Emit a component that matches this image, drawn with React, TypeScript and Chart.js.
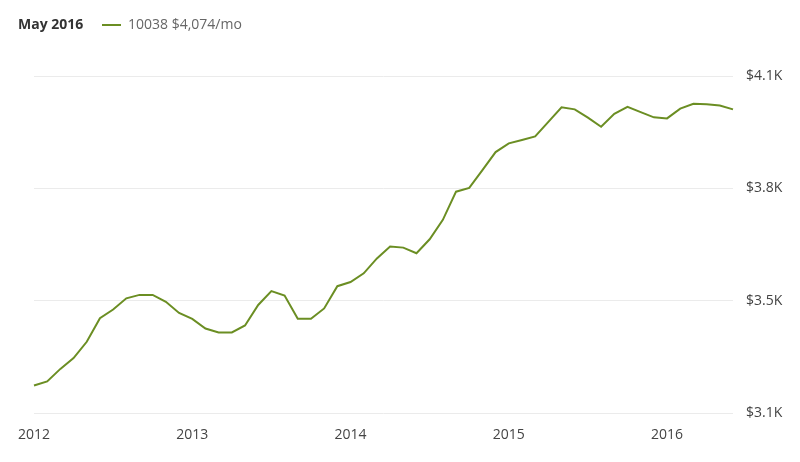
import { useEffect, useRef } from "react";
import { Chart, registerables } from "chart.js";

Chart.register(...registerables);

const years = ["2012", "2013", "2014", "2015", "2016"];
const monthNums = ["01", "02", "03", "04", "05", "06", "07", "08", "09", "10", "11", "12"];
const months: string[] = [];
years.forEach((y) => monthNums.forEach((m) => months.push(`${y}-${m}`)));
const categories = months.slice(0, 54); // Jan 2012 – Jun 2016

const rent = [
  3209, 3221, 3257, 3288, 3335, 3403, 3428, 3460, 3470, 3470, 3450, 3418,
  3401, 3373, 3362, 3362, 3382, 3441, 3481, 3468, 3401, 3401, 3431, 3495,
  3507, 3532, 3575, 3609, 3606, 3590, 3630, 3686, 3767, 3778, 3829, 3881,
  3906, 3916, 3926, 3968, 4010, 4004, 3980, 3954, 3991, 4011, 3996, 3981,
  3978, 4006, 4020, 4019, 4015, 4004,
];

const yMin = 3130;
const yMax = 4100;
const yTickValues = [3130, 3453.33, 3776.67, 4100];

const headerDate = "May 2016";
const seriesLabel = "10038 $4,074/mo";
const lineColor = "#6b8e23";

export default function App() {
  const ref = useRef<HTMLCanvasElement | null>(null);

  useEffect(() => {
    document.body.style.margin = "0";
    if (!ref.current) return;

    const header = {
      id: "header",
      afterDraw(chart: any) {
        const ctx = chart.ctx as CanvasRenderingContext2D;
        ctx.save();
        ctx.textBaseline = "middle";
        ctx.font = "bold 14px 'Open Sans'";
        ctx.fillStyle = "#333333";
        ctx.fillText(headerDate, 18, 25);
        ctx.strokeStyle = lineColor;
        ctx.lineWidth = 2;
        ctx.beginPath();
        ctx.moveTo(102, 25);
        ctx.lineTo(121, 25);
        ctx.stroke();
        ctx.font = "14px 'Open Sans'";
        ctx.fillStyle = "#666666";
        ctx.fillText(seriesLabel, 128, 25);
        ctx.restore();
      },
    };

    const chart = new Chart(ref.current, {
      type: "line",
      data: {
        labels: categories,
        datasets: [
          {
            label: seriesLabel,
            data: rent,
            borderColor: lineColor,
            borderWidth: 2,
            pointRadius: 0,
            tension: 0,
            fill: false,
          },
        ],
      },
      options: {
        responsive: false,
        animation: false,
        layout: { padding: { top: 76, left: 34, right: 0, bottom: 0 } },
        plugins: {
          legend: { display: false },
          tooltip: { enabled: false },
          title: { display: false },
        },
        scales: {
          x: {
            type: "category",
            grid: { display: false, drawTicks: false },
            border: { display: false },
            ticks: {
              autoSkip: false,
              maxRotation: 0,
              minRotation: 0,
              padding: 14,
              color: "#444444",
              font: { family: "'Open Sans'", size: 14 },
              callback: (_v: any, i: number) =>
                categories[i].endsWith("-01") ? categories[i].slice(0, 4) : null,
            },
            afterFit: (s: any) => {
              s.height = 49;
            },
          },
          y: {
            position: "right",
            min: yMin,
            max: yMax,
            grid: { color: "#ebebeb", lineWidth: 1, drawTicks: false },
            border: { display: false },
            afterBuildTicks: (s: any) => {
              s.ticks = yTickValues.map((v) => ({ value: v }));
            },
            ticks: {
              padding: 13,
              color: "#444444",
              font: { family: "'Open Sans'", size: 14 },
              callback: (v: any) => "$" + (Number(v) / 1000).toFixed(1) + "K",
            },
            afterFit: (s: any) => {
              s.width = 67;
            },
          },
        },
      },
      plugins: [header],
    });

    return () => chart.destroy();
  }, []);

  return <canvas ref={ref} width={800} height={462} style={{ display: "block" }} />;
}
